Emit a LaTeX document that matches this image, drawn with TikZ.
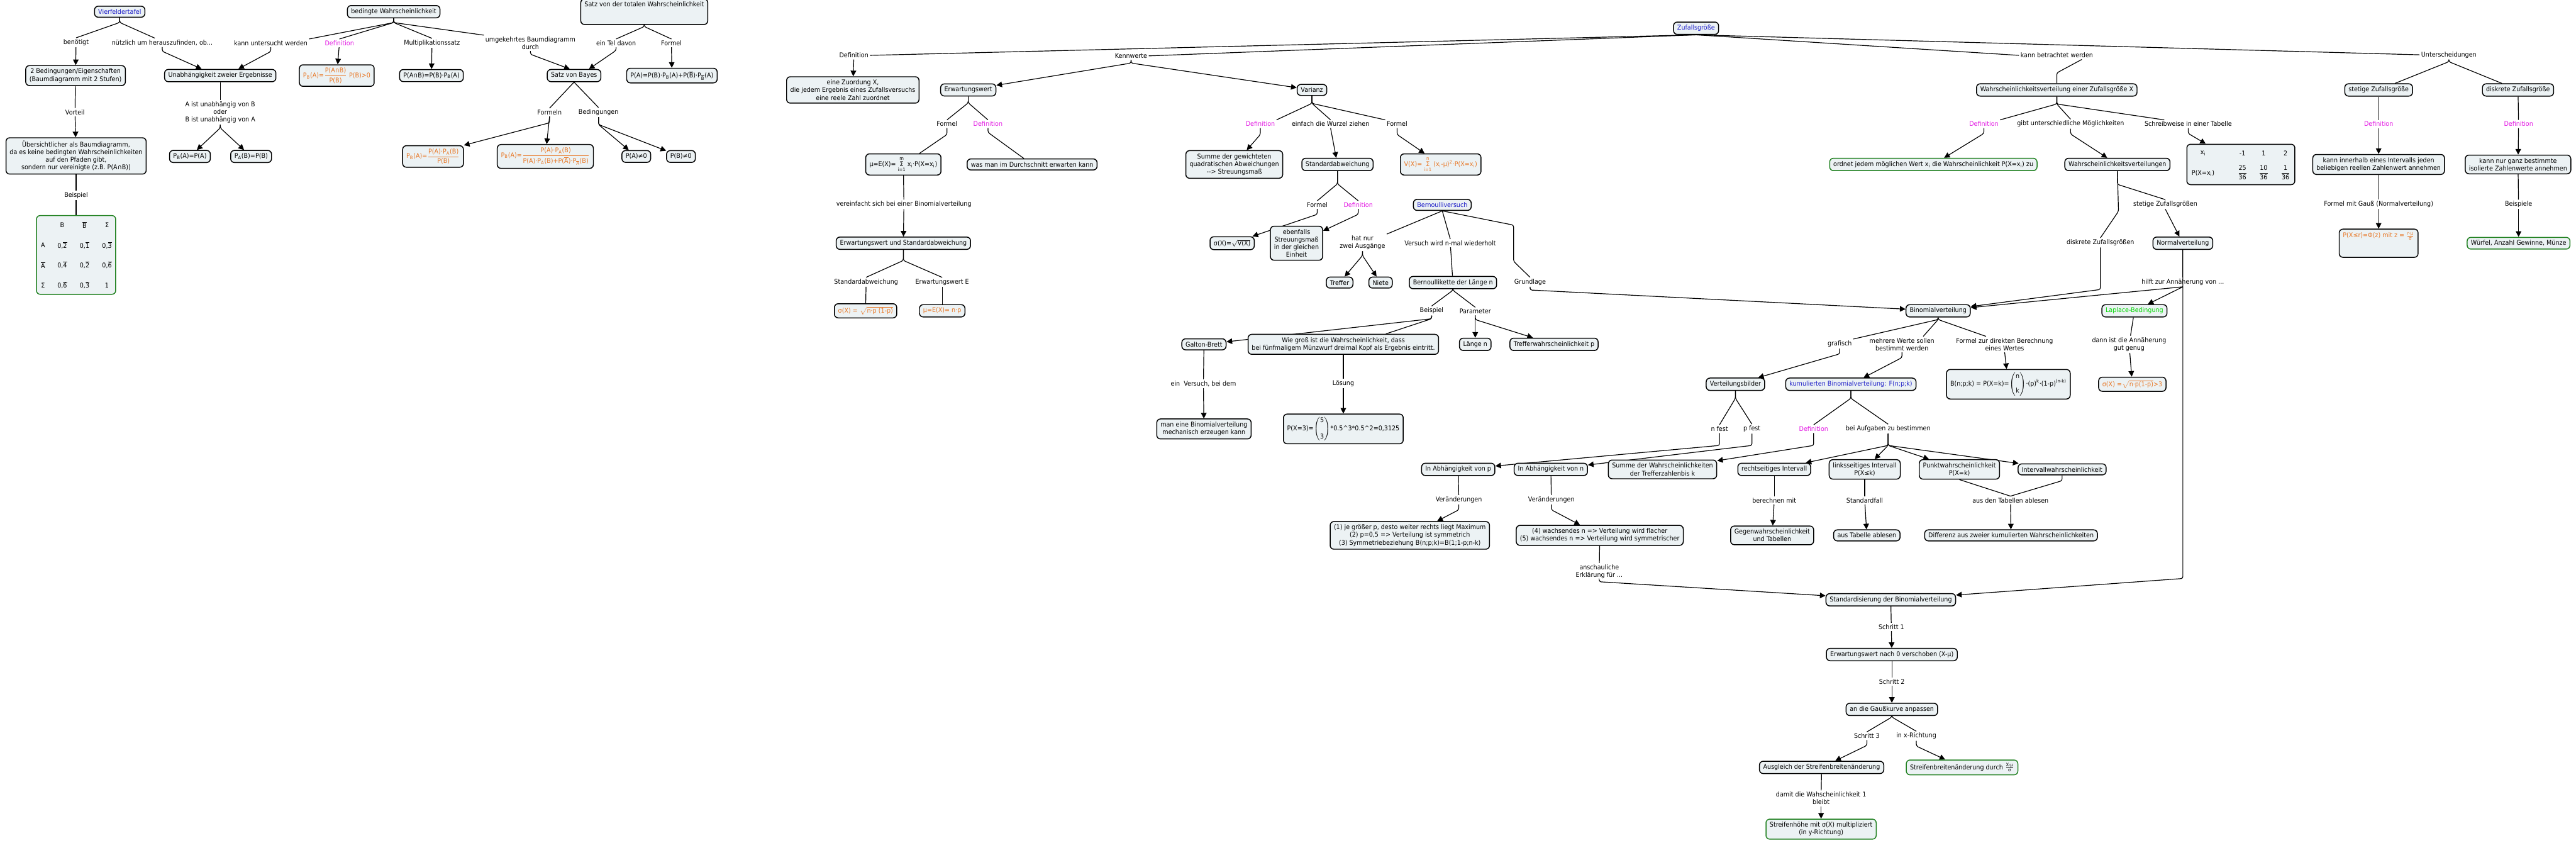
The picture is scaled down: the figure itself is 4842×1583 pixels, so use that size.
\documentclass[tikz,border=0pt]{standalone}
\usepackage{fontspec}
\usepackage{amsmath}
\setmainfont{DejaVu Sans}[FakeStretch=0.92]
\usetikzlibrary{arrows.meta,backgrounds,calc}
\definecolor{boxfill}{RGB}{236,242,244}
\definecolor{mgreen}{RGB}{34,130,34}
\definecolor{morange}{RGB}{232,118,36}
\definecolor{mmagenta}{RGB}{228,30,228}
\definecolor{mblue}{RGB}{30,30,200}
\definecolor{lgreen}{RGB}{0,215,0}
\newcommand\mapfs{\fontsize{7}{8.2}\selectfont}
\tikzset{
  box/.style={draw=black, line width=1pt, rounded corners=4pt, fill=boxfill, inner xsep=4pt, inner ysep=3.2pt, align=center, font=\mapfs},
  gbox/.style={box, draw=mgreen},
  lab/.style={inner sep=1.5pt, align=center, font=\mapfs},
  cell/.style={inner sep=0pt, font=\mapfs},
  conn/.style={draw, line width=0.8pt, rounded corners=2pt},
  arr/.style={conn, -{Triangle[length=6pt,width=6pt]}},
}
\begin{document}
\begin{tikzpicture}[x=0.02cm,y=-0.02cm]
\useasboundingbox (0,0) rectangle (4842,1583);
% ---------------- left trees ----------------
\node[box,text=mblue] (vft) at (225,22) {Vierfeldertafel};
\node[lab] (l_ben) at (143,80) {benötigt};
\node[lab] (l_nutz) at (305,80) {nützlich um herauszufinden, ob...};
\node[box] (zweiB) at (142,142) {2 Bedingungen/Eigenschaften\\(Baumdiagramm mit 2 Stufen)};
\node[lab] (l_vort) at (141,211) {Vorteil};
\node[box] (uebers) at (143,293) {Übersichtlicher als Baumdiagramm,\\da es keine bedingten Wahrscheinlichkeiten\\auf den Pfaden gibt,\\sondern nur vereinigte (z.B. P(A∩B))};
\node[lab] (l_beis1) at (143,367) {Beispiel};
\node[gbox, minimum width=2.98cm, minimum height=2.96cm] (vtab) at (143,479) {};
\node[cell] (vt-b) at (117,423) {B};
\node[cell] (vt-bb) at (159,423) {$\overline{\text{B}}$};
\node[cell] (vt-s) at (201,423) {Σ};
\node[cell] (vt-a) at (81,461) {A};
\node[cell] (vt-a1) at (117,461) {0,$\overline{\text{2}}$};
\node[cell] (vt-a2) at (159,461) {0,$\overline{\text{1}}$};
\node[cell] (vt-a3) at (201,461) {0,$\overline{\text{3}}$};
\node[cell] (vt-ab) at (81,498) {$\overline{\text{A}}$};
\node[cell] (vt-ab1) at (117,498) {0,$\overline{\text{4}}$};
\node[cell] (vt-ab2) at (159,498) {0,$\overline{\text{2}}$};
\node[cell] (vt-ab3) at (201,498) {0,$\overline{\text{6}}$};
\node[cell] (vt-ss) at (81,536) {Σ};
\node[cell] (vt-s1) at (117,536) {0,$\overline{\text{6}}$};
\node[cell] (vt-s2) at (159,536) {0,$\overline{\text{3}}$};
\node[cell] (vt-s3) at (201,536) {1};

\node[box] (unab) at (414,142) {Unabhängigkeit zweier Ergebnisse};
\node[lab] (l_aist) at (414,211) {A ist unabhängig von B\\oder\\B ist unabhängig von A};
\node[box] (pba) at (357,294) {P\textsubscript{B}(A)=P(A)};
\node[box] (pab) at (472,294) {P\textsubscript{A}(B)=P(B)};

\node[box] (bedW) at (740,22) {bedingte Wahrscheinlichkeit};
\node[lab] (l_kann) at (509,81) {kann untersucht werden};
\node[lab,text=mmagenta] (l_def1) at (638,81) {Definition};
\node[lab] (l_mult) at (812,81) {Multiplikationssatz};
\node[lab] (l_umg) at (997,81) {umgekehrtes Baumdiagramm\\durch};
\node[box,text=morange] (defPB) at (633,142) {P\textsubscript{B}(A)=$\dfrac{\text{P(A∩B)}}{\text{P(B)}}$ P(B)>0};
\node[box] (multbox) at (811,142) {P(A∩B)=P(B)·P\textsubscript{B}(A)};

\node[box] (totW) at (1211,22) {Satz von der totalen Wahrscheinlichkeit\\[5pt]\strut};
\node[lab] (l_teil) at (1158,81) {ein Tel davon};
\node[lab] (l_form1) at (1262,81) {Formel};
\node[box] (totF) at (1263,142) {P(A)=P(B)·P\textsubscript{B}(A)+P($\overline{\text{B}}$)·P\textsubscript{$\overline{\text{B}}$}(A)};
\node[box] (bayes) at (1079,142) {Satz von Bayes};
\node[lab] (l_formeln) at (1033,211) {Formeln};
\node[lab] (l_beding) at (1125,211) {Bedingungen};
\node[box,text=morange] (bay1) at (814,294) {P\textsubscript{B}(A)=$\dfrac{\text{P(A)·P\textsubscript{A}(B)}}{\text{P(B)}}$};
\node[box,text=morange] (bay2) at (1025,294) {P\textsubscript{B}(A)=$\dfrac{\text{P(A)·P\textsubscript{A}(B)}}{\text{P(A)·P\textsubscript{A}(B)+P($\overline{\text{A}}$)·P\textsubscript{$\overline{\text{A}}$}(B)}}$};
\node[box] (pAn0) at (1196,294) {P(A)≠0};
\node[box] (pBn0) at (1280,294) {P(B)≠0};

% ---------------- Zufallsgroesse ----------------
\node[box,text=mblue] (zg) at (3188,53) {Zufallsgröße};
\node[lab] (l_def2) at (1605,104) {Definition};
\node[lab] (l_kenn) at (2126,105) {Kennwerte};
\node[lab] (l_kbw) at (3866,104) {kann betrachtet werden};
\node[lab] (l_unt) at (4603,103) {Unterscheidungen};
\node[box] (zuord) at (1603,169) {eine Zuordung X,\\die jedem Ergebnis eines Zufallsversuchs\\eine reele Zahl zuordnet};
\node[box] (erw) at (1820,169) {Erwartungswert};
\node[box] (var) at (2466,169) {Varianz};

\node[lab] (l_form2) at (1780,233) {Formel};
\node[lab,text=mmagenta] (l_def3) at (1857,233) {Definition};
\node[box] (mu) at (1698,309) {μ=E(X)= $\mathop{\text{Σ}}\limits_{\text{i=1}}^{\text{m}}$ x\textsubscript{i}·P(X=x\textsubscript{i})};
\node[box] (durch) at (1940,309) {was man im Durchschnitt erwarten kann};
\node[lab] (l_vereinf) at (1699,384) {vereinfacht sich bei einer Binomialverteilung};
\node[box] (eus) at (1698,457) {Erwartungswert und Standardabweichung};
\node[lab] (l_sa) at (1628,530) {Standardabweichung};
\node[lab] (l_ee) at (1771,530) {Erwartungswert E};
\node[box,text=morange] (sigbin) at (1627,584) {σ(X) = $\sqrt{\text{n·p (1-p)}}$};
\node[box,text=morange] (mubin) at (1771,584) {μ=E(X)= n·p};

\node[lab,text=mmagenta] (l_def4) at (2369,233) {Definition};
\node[lab] (l_wurz) at (2501,233) {einfach die Wurzel ziehen};
\node[lab] (l_form3) at (2626,233) {Formel};
\node[box] (summe) at (2320,309) {Summe der gewichteten\\quadratischen Abweichungen\\-{}-> Streuungsmaß};
\node[box] (stdab) at (2514,309) {Standardabweichung};
\node[box,text=morange] (vx) at (2708,309) {V(X)= $\mathop{\text{Σ}}\limits_{\text{i=1}}^{\text{n}}$ (x\textsubscript{i}-μ)\textsuperscript{2}·P(X=x\textsubscript{i})};
\node[lab] (l_form4) at (2476,385) {Formel};
\node[lab,text=mmagenta] (l_def5) at (2553,385) {Definition};
\node[box] (sigv) at (2316,457) {σ(X)=$\sqrt{\text{V(X)}}$};
\node[box] (ebenf) at (2437,457) {ebenfalls\\Streuungsmaß\\in der gleichen\\Einheit};

\node[box,text=mblue] (bern) at (2711,385) {Bernoulliversuch};
\node[lab] (l_hat) at (2561,456) {hat nur\\zwei Ausgänge};
\node[lab] (l_nmal) at (2726,457) {Versuch wird n-mal wiederholt};
\node[lab] (l_grund) at (2876,530) {Grundlage};
\node[box] (treffer) at (2518,531) {Treffer};
\node[box] (niete) at (2595,531) {Niete};
\node[box] (bkette) at (2731,531) {Bernoullikette der Länge n};
\node[lab] (l_beis2) at (2691,584) {Beispiel};
\node[lab] (l_param) at (2773,585) {Parameter};
\node[box] (wiegross) at (2525,647) {Wie groß ist die Wahrscheinlichkeit, dass\\bei fünfmaligem Münzwurf dreimal Kopf als Ergebnis eintritt.};
\node[box] (galton) at (2263,647) {Galton-Brett};
\node[box] (laenge) at (2773,647) {Länge n};
\node[box] (treffp) at (2921,647) {Trefferwahrscheinlichkeit p};
\node[lab] (l_einV) at (2262,721) {ein\ \ Versuch, bei dem};
\node[box] (mech) at (2263,806) {man eine Binomialverteilung\\mechanisch erzeugen kann};
\node[lab] (l_loes) at (2525,721) {Lösung};
\node[box] (px3) at (2525,806) {P(X=3)=$\left(\begin{array}{@{}c@{}}\text{5}\\[9pt]\text{3}\end{array}\right)$*0.5\textasciicircum 3*0.5\textasciicircum 2=0,3125};

% ---------------- Binomialverteilung ----------------
\node[box] (binom) at (3643,584) {Binomialverteilung};
\node[lab] (l_graf) at (3458,646) {grafisch};
\node[lab] (l_mehr) at (3575,647) {mehrere Werte sollen\\bestimmt werden};
\node[lab] (l_fdir) at (3768,647) {Formel zur direkten Berechnung\\eines Wertes};
\node[box] (vbild) at (3262,722) {Verteilungsbilder};
\node[box,text=mblue] (kum) at (3479,722) {kumulierten Binomialverteilung: F(n;p;k)};
\node[box] (bnpk) at (3775,722) {B(n;p;k) = P(X=k)=$\left(\begin{array}{@{}c@{}}\text{n}\\[7pt]\text{k}\end{array}\right)$·(p)\textsuperscript{k}·(1-p)\textsuperscript{(n-k)}};
\node[lab] (l_nfest) at (3232,806) {n fest};
\node[lab] (l_pfest) at (3293,806) {p fest};
\node[lab,text=mmagenta] (l_def6) at (3409,806) {Definition};
\node[lab] (l_beiA) at (3549,806) {bei Aufgaben zu bestimmen};
\node[box] (abhp) at (2741,882) {In Abhängigkeit von p};
\node[box] (abhn) at (2915,882) {In Abhängigkeit von n};
\node[box] (summek) at (3125,882) {Summe der Wahrscheinlichkeiten\\der Trefferzahlenbis k};
\node[box] (rechts) at (3335,882) {rechtseitiges Intervall};
\node[box] (links) at (3505,882) {linksseitiges Intervall\\P(X≤k)};
\node[box] (punkt) at (3683,882) {Punktwahrscheinlichkeit\\P(X=k)};
\node[box] (intw) at (3876,882) {Intervallwahrscheinlichkeit};
\node[lab] (l_ber) at (3335,940) {berechnen mit};
\node[lab] (l_std) at (3505,940) {Standardfall};
\node[lab] (l_ausT) at (3779,940) {aus den Tabellen ablesen};
\node[box] (gegen) at (3331,1006) {Gegenwahrscheinlichkeit\\und Tabellen};
\node[box] (ausTab) at (3509,1006) {aus Tabelle ablesen};
\node[box] (diff) at (3780,1006) {Differenz aus zweier kumulierten Wahrscheinlichkeiten};
\node[lab] (l_ver1) at (2742,939) {Veränderungen};
\node[lab] (l_ver2) at (2916,939) {Veränderungen};
\node[box] (box123) at (2650,1006) {(1) je größer p, desto weiter rechts liegt Maximum\\(2) p=0,5 => Verteilung ist symmetrich\\(3) Symmetriebeziehung B(n;p;k)=B(1;1-p;n-k)};
\node[box] (box45) at (3007,1006) {(4) wachsendes n => Verteilung wird flacher\\(5) wachsendes n => Verteilung wird symmetrischer};
\node[lab] (l_ansch) at (3006,1074) {anschauliche\\Erklärung für ...};

\node[box] (stand) at (3554,1127) {Standardisierung der Binomialverteilung};
\node[lab] (l_s1) at (3555,1178) {Schritt 1};
\node[box] (erw0) at (3556,1230) {Erwartungswert nach 0 verschoben (X-μ)};
\node[lab] (l_s2) at (3556,1281) {Schritt 2};
\node[box] (gauss) at (3556,1333) {an die Gaußkurve anpassen};
\node[lab] (l_s3) at (3509,1383) {Schritt 3};
\node[lab] (l_xr) at (3602,1383) {in x-Richtung};
\node[box] (ausgl) at (3424,1442) {Ausgleich der Streifenbreitenänderung};
\node[gbox] (sbd) at (3688,1442) {Streifenbreitenänderung durch $\frac{\text{X-μ}}{\text{σ}}$};
\node[lab] (l_damit) at (3423,1500) {damit die Wahscheinlichkeit 1\\bleibt};
\node[gbox] (shoehe) at (3423,1558) {Streifenhöhe mit σ(X) multipliziert\\(in y-Richtung)};

% ---------------- Wahrscheinlichkeitsverteilung ----------------
\node[box] (wvX) at (3866,169) {Wahrscheinlichkeitsverteilung einer Zufallsgröße X};
\node[lab,text=mmagenta] (l_def7) at (3729,233) {Definition};
\node[lab] (l_gibt) at (3892,233) {gibt unterschiedliche Möglichkeiten};
\node[lab] (l_schr) at (4113,233) {Schreibweise in einer Tabelle};
\node[gbox] (ordnet) at (3634,309) {ordnet jedem möglichen Wert x\textsubscript{i} die Wahrscheinlichkeit P(X=x\textsubscript{i}) zu};
\node[box] (wvs) at (3980,309) {Wahrscheinlichkeitsverteilungen};
\node[box, minimum width=4.06cm, minimum height=1.52cm] (xtab) at (4212,309) {};
\node[cell] (xt-x) at (4141,288) {x\textsubscript{i}};
\node[cell] (xt-1) at (4215,288) {-1};
\node[cell] (xt-2) at (4255,288) {1};
\node[cell] (xt-3) at (4296,288) {2};
\node[cell] (xt-p) at (4141,326) {P(X=x\textsubscript{i})};
\node[cell] (xt-p1) at (4215,324) {$\dfrac{\text{25}}{\text{36}}$};
\node[cell] (xt-p2) at (4255,324) {$\dfrac{\text{10}}{\text{36}}$};
\node[cell] (xt-p3) at (4296,324) {$\dfrac{\text{1}}{\text{36}}$};
\node[lab] (l_dzg) at (3948,456) {diskrete Zufallsgrößen};
\node[lab] (l_szg) at (4070,384) {stetige Zufallsgrößen};
\node[box] (normal) at (4103,457) {Normalverteilung};
\node[lab] (l_hilft) at (4103,530) {hilft zur Annäherung von ...};
\node[box,text=lgreen] (laplace) at (4012,584) {Laplace-Bedingung};
\node[lab] (l_dann) at (4002,647) {dann ist die Annäherung\\gut genug};
\node[box,text=morange] (lapF) at (4008,722) {σ(X) =$\sqrt{\text{n·p(1-p)}}$>3};

\node[box] (stetig) at (4471,169) {stetige Zufallsgröße};
\node[box] (diskret) at (4733,169) {diskrete Zufallsgröße};
\node[lab,text=mmagenta] (l_def8) at (4471,233) {Definition};
\node[lab,text=mmagenta] (l_def9) at (4734,233) {Definition};
\node[box] (stetD) at (4471,309) {kann innerhalb eines Intervalls jeden\\beliebigen reellen Zahlenwert annehmen};
\node[box] (diskD) at (4733,309) {kann nur ganz bestimmte\\isolierte Zahlenwerte annehmen};
\node[lab] (l_fgauss) at (4471,384) {Formel mit Gauß (Normalverteilung)};
\node[lab] (l_beisp) at (4734,384) {Beispiele};
\node[box,text=morange] (phi) at (4471,457) {P(X≤r)=Φ(z) mit z = $\frac{\text{r-μ}}{\text{σ}}$\\[6pt]\strut};
\node[gbox] (wuerfel) at (4734,457) {Würfel, Anzahl Gewinne, Münze};

% ---------------- connectors ----------------
\begin{scope}[on background layer]
\fill[white] (0,0) rectangle (4842,1583);
\draw[conn] (vft.south) -- ++(0,9) -- (l_ben.north);
\draw[conn] (vft.south) -- ++(0,9) -- ($(l_nutz.north)+(-14,0)$);
\draw[arr] (l_ben) -- (zweiB);
\draw[conn] (zweiB) -- (l_vort);
\draw[arr] (l_vort) -- (uebers);
\draw[conn] (uebers) -- (l_beis1);
\draw[conn] (l_beis1) -- (vtab);
\draw[arr] (l_nutz.south) -- ++(0,8) -- ($(unab.north)+(-35,0)$);
\draw[arr] (l_kann.south) -- ++(0,8) -- ($(unab.north)+(34,0)$);
\draw[conn] (unab) -- (l_aist);
\draw[arr] (l_aist.south) -- ++(0,6) -- (pba);
\draw[arr] (l_aist.south) -- ++(0,6) -- (pab);
\draw[conn] (bedW.south) -- ++(0,8) -- (l_kann.north east);
\draw[conn] (bedW.south) -- ++(0,8) -- (l_def1.north);
\draw[conn] (bedW.south) -- ++(0,8) -- (l_mult.north);
\draw[conn] (bedW.south) -- ++(0,8) -- (l_umg.north west);
\draw[arr] (l_def1) -- (defPB);
\draw[arr] (l_mult) -- (multbox);
\draw[arr] (l_umg.south) -- ++(0,6) -- ($(bayes.north)+(-8,0)$);
\draw[conn] (totW.south) -- ++(0,3) -- (l_teil.north);
\draw[conn] (totW.south) -- ++(0,3) -- (l_form1.north);
\draw[arr] (l_teil.south) -- ++(0,6) -- ($(bayes.north)+(28,0)$);
\draw[arr] (l_form1) -- (totF);
\draw[conn] (bayes.south) -- (l_formeln.north);
\draw[conn] (bayes.south) -- (l_beding.north);
\draw[arr] (l_formeln.south) -- ++(0,12) -- (bay1.north east);
\draw[arr] (l_formeln.south) -- (bay2);
\draw[arr] (l_beding.south) -- ++(0,14) -- (pAn0);
\draw[arr] (l_beding.south) -- ++(0,14) -- (pBn0);

\draw[conn] (zg.south) -- (l_def2.east);
\draw[conn] (zg.south) -- (l_kenn.east);
\draw[conn] (zg.south) -- (l_kbw.west);
\draw[conn] (zg.south) -- (l_unt.west);
\draw[arr] (l_def2) -- (zuord);
\draw[arr] (l_kenn.south) -- ++(0,6) -- (erw);
\draw[arr] (l_kenn.south) -- ++(0,6) -- (var);
\draw[conn] (erw.south) -- ++(0,12) -- (l_form2.north);
\draw[conn] (erw.south) -- ++(0,12) -- (l_def3.north);
\draw[conn] (l_form2.south) -- ++(0,12) -- (mu);
\draw[conn] (l_def3.south) -- ++(0,8) -- (durch);
\draw[conn] (mu) -- (l_vereinf);
\draw[arr] (l_vereinf) -- (eus);
\draw[conn] (eus.south) -- ++(0,20) -- (l_sa.north);
\draw[conn] (eus.south) -- ++(0,20) -- (l_ee.north);
\draw[conn] (l_sa) -- (sigbin);
\draw[conn] (l_ee) -- (mubin);
\draw[conn] (var.south) -- ++(0,14) -- (l_def4.north east);
\draw[conn] (var.south) -- ++(0,14) -- (l_wurz.north);
\draw[conn] (var.south) -- ++(0,14) -- (l_form3.north west);
\draw[arr] (l_def4.south) -- ++(0,12) -- (summe);
\draw[arr] (l_wurz.south) -- (stdab);
\draw[arr] (l_form3.south) -- ++(0,12) -- (vx);
\draw[conn] (stdab.south) -- ++(0,24) -- (l_form4.north);
\draw[conn] (stdab.south) -- ++(0,24) -- (l_def5.north);
\draw[arr] (l_form4.south) -- ++(0,10) -- (sigv);
\draw[arr] (l_def5.south) -- ++(0,10) -- (ebenf);
\draw[conn] (bern.south) -- (l_hat.north east);
\draw[conn] (bern.south) -- (l_nmal.north);
\draw[conn] (bern.south) -- (2845,423) -- (2845,491) -- (l_grund.north);
\draw[arr] (l_hat.south) -- ++(0,8) -- (treffer);
\draw[arr] (l_hat.south) -- ++(0,8) -- (niete);
\draw[conn] (l_nmal) -- (bkette);
\draw[arr] (l_grund.south) -- ++(0,6) -- (binom);
\draw[conn] (bkette.south) -- ++(0,2) -- (l_beis2.north);
\draw[conn] (bkette.south) -- ++(0,2) -- (l_param.north);
\draw[arr] (l_beis2.south) -- ++(0,6) -- (galton);
\draw[conn] (l_beis2.south) -- ++(0,6) -- ($(wiegross.north)+(80,0)$);
\draw[arr] (l_param.south) -- (laenge);
\draw[arr] (l_param.south) -- ++(0,8) -- (treffp);
\draw[conn] (galton) -- (l_einV);
\draw[arr] (l_einV) -- (mech);
\draw[conn] (wiegross) -- (l_loes);
\draw[arr] (l_loes) -- (px3);

\draw[conn] (binom.south) -- ++(0,4) -- (l_graf.north east);
\draw[conn] (binom.south) -- ++(0,4) -- ($(l_mehr.north)+(40,0)$);
\draw[conn] (binom.south) -- ++(0,4) -- ($(l_fdir.north)+(-35,0)$);
\draw[arr] (l_graf.south) -- ++(0,10) -- (vbild);
\draw[arr] (l_mehr.south) -- ++(0,10) -- (kum);
\draw[arr] (l_fdir.south) -- (bnpk);
\draw[conn] (vbild.south) -- ++(0,14) -- (l_nfest.north);
\draw[conn] (vbild.south) -- ++(0,14) -- (l_pfest.north);
\draw[conn] (kum.south) -- ++(0,14) -- (l_def6.north);
\draw[conn] (kum.south) -- ++(0,14) -- (l_beiA.north);
\draw[arr] (l_nfest.south) -- (3232,837) -- (abhp);
\draw[arr] (l_pfest.south) -- (3293,837) -- (abhn);
\draw[arr] (l_def6.south) -- (3409,837) -- (summek);
\draw[arr] (l_beiA.south) -- (3549,837) -- (rechts);
\draw[arr] (l_beiA.south) -- (3549,837) -- (links);
\draw[arr] (l_beiA.south) -- (3549,837) -- (punkt);
\draw[arr] (l_beiA.south) -- (3549,837) -- (intw);
\draw[conn] (rechts) -- (l_ber);
\draw[arr] (l_ber) -- (gegen);
\draw[conn] (links) -- (l_std);
\draw[arr] (l_std) -- (ausTab);
\draw[conn] (punkt.south) -- (l_ausT.north);
\draw[conn] (intw.south) -- ++(0,10) -- (l_ausT.north);
\draw[arr] (l_ausT) -- (diff);
\draw[conn] (abhp) -- (l_ver1);
\draw[arr] (l_ver1.south) -- ++(0,10) -- (box123);
\draw[conn] (abhn) -- (l_ver2);
\draw[arr] (l_ver2.south) -- ++(0,10) -- (box45);
\draw[conn] (box45) -- (l_ansch);
\draw[arr] (l_ansch.south) -- ++(0,3) -- (stand);
\draw[conn] (stand) -- (l_s1);
\draw[arr] (l_s1) -- (erw0);
\draw[conn] (erw0) -- (l_s2);
\draw[arr] (l_s2) -- (gauss);
\draw[conn] (gauss.south) -- ++(0,2) -- (l_s3.north);
\draw[conn] (gauss.south) -- ++(0,2) -- (l_xr.north);
\draw[arr] (l_s3.south) -- ++(0,10) -- (ausgl);
\draw[arr] (l_xr.south) -- ++(0,10) -- (sbd);
\draw[conn] (ausgl) -- (l_damit);
\draw[arr] (l_damit) -- (shoehe);

\draw[conn] ($(l_kbw.south)+(47,0)$) -- (3866,137) -- (wvX.north);
\draw[conn] (wvX.south) -- ++(0,14) -- (l_def7.north east);
\draw[conn] (wvX.south) -- ++(0,14) -- (l_gibt.north);
\draw[conn] (wvX.south) -- ++(0,14) -- ($(l_schr.north)+(-45,0)$);
\draw[arr] (l_def7.south) -- ++(0,10) -- (ordnet);
\draw[arr] (l_gibt.south) -- ++(0,10) -- (wvs);
\draw[arr] (l_schr.south) -- ++(0,10) -- (xtab);
\draw[conn] (wvs.south) -- (3982,397) -- (l_dzg.north);
\draw[conn] (wvs.south) -- ++(0,25) -- (l_szg.north);
\draw[arr] (l_szg.south) -- (normal);
\draw[arr] (l_dzg.south) -- (3948,544) -- (binom);
\draw[conn] (normal) -- (l_hilft);
\draw[arr] (l_hilft.south) -- (binom);
\draw[arr] (l_hilft.south) -- (laplace);
\draw[arr] (normal.south) -- (4103,1087) -- (stand);
\draw[conn] (laplace) -- (l_dann);
\draw[arr] (l_dann) -- (lapF);
\draw[conn] (l_unt.south) -- ++(0,4) -- (stetig);
\draw[conn] (l_unt.south) -- ++(0,4) -- (diskret);
\draw[conn] (stetig) -- (l_def8);
\draw[arr] (l_def8) -- (stetD);
\draw[conn] (stetD) -- (l_fgauss);
\draw[arr] (l_fgauss) -- (phi);
\draw[conn] (diskret) -- (l_def9);
\draw[arr] (l_def9) -- (diskD);
\draw[conn] (diskD) -- (l_beisp);
\draw[arr] (l_beisp) -- (wuerfel);
\end{scope}
\end{tikzpicture}
\end{document}
